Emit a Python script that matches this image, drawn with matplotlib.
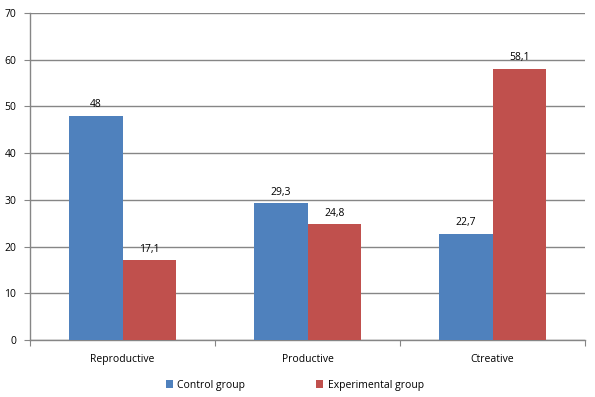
import numpy as np
import matplotlib.pyplot as plt

# Chart data
categories = ["Reproductive", "Productive", "Ctreative"]
control = [48, 29.3, 22.7]
experimental = [17.1, 24.8, 58.1]
series_names = ["Control group", "Experimental group"]

blue = "#4F81BD"
red = "#C0504D"
axis_grey = "#868686"

plt.rcParams['font.family'] = ['Open Sans', 'DejaVu Sans']

fig = plt.figure(figsize=(5.95, 3.97), dpi=100)
ax = fig.add_axes([30 / 595, 57 / 397, 555 / 595, 327 / 397])

x = np.arange(len(categories))
w = 0.29
b1 = ax.bar(x - w / 2, control, w, color=blue, label=series_names[0], zorder=3)
b2 = ax.bar(x + w / 2, experimental, w, color=red, label=series_names[1], zorder=3)

def fmt(v):
    s = ("%g" % v).replace(".", ",")
    return s

for bars, vals in ((b1, control), (b2, experimental)):
    for rect, v in zip(bars, vals):
        ax.text(rect.get_x() + rect.get_width() / 2, v + 1.2, fmt(v),
                ha="center", va="bottom", fontsize=7.5, color="black")

ax.set_xlim(-0.5, len(categories) - 0.5)
ax.set_ylim(0, 70)
ax.set_yticks(range(0, 71, 10))
ax.tick_params(axis="y", length=4, color=axis_grey, labelsize=7.5, pad=6)

# category labels between boundary ticks
ax.set_xticks(np.arange(-0.5, len(categories), 1))
ax.set_xticklabels([])
ax.tick_params(axis="x", length=4, color=axis_grey)
for i, c in enumerate(categories):
    ax.text(i, -3.0, c, ha="center", va="top", fontsize=7.5,
            transform=ax.transData)

ax.grid(axis="y", color=axis_grey, linewidth=1, zorder=0)
for s in ("top", "right"):
    ax.spines[s].set_visible(False)
for s in ("left", "bottom"):
    ax.spines[s].set_color(axis_grey)
    ax.spines[s].set_linewidth(1)

ax.legend(loc="center", bbox_to_anchor=(0.477, -0.138), ncol=2, frameon=False,
          fontsize=7.5, handlelength=0.7, handleheight=0.7, handletextpad=0.4,
          columnspacing=6.8)

fig.savefig("out.png", dpi=100)
